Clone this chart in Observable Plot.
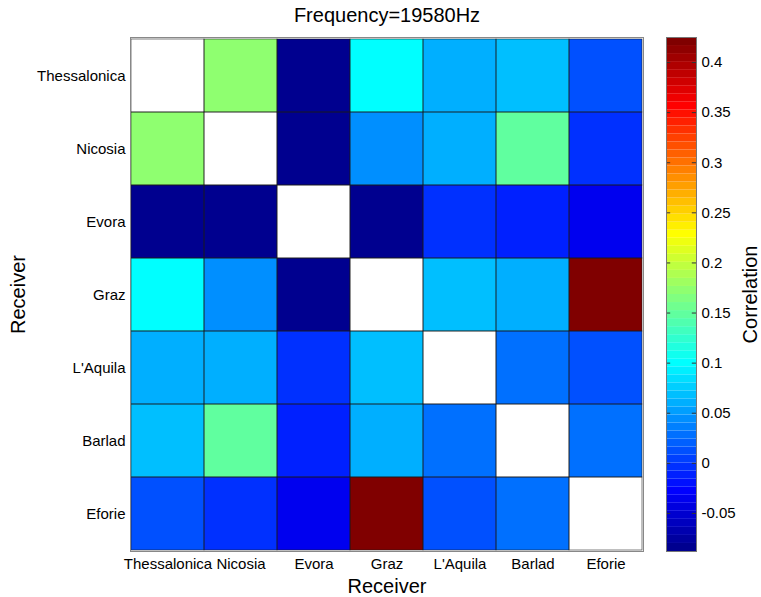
<!DOCTYPE html>
<html><head><meta charset="utf-8">
<script src="https://cdn.jsdelivr.net/npm/d3@7"></script>
<script src="https://cdn.jsdelivr.net/npm/@observablehq/plot@0.6"></script>
<style>
body{margin:0;background:#fff;}
#wrap{position:relative;width:761px;height:597px;}
#wrap svg{position:absolute;left:0;top:0;}
</style></head><body><div id="wrap"></div>
<script>
const receivers = ["Thessalonica","Nicosia","Evora","Graz","L'Aquila","Barlad","Eforie"];
const rowThessalonica = [null, 0.176, -0.085, 0.104, 0.058, 0.065, 0.015];
const rowNicosia      = [0.176, null, -0.085, 0.047, 0.064, 0.147, -0.005];
const rowEvora        = [-0.085, -0.085, null, -0.085, -0.007, -0.008, -0.038];
const rowGraz         = [0.104, 0.047, -0.085, null, 0.072, 0.063, 0.425];
const rowLAquila      = [0.058, 0.064, -0.007, 0.072, null, 0.030, 0.015];
const rowBarlad       = [0.065, 0.147, -0.008, 0.063, 0.030, null, 0.030];
const rowEforie       = [0.015, -0.005, -0.038, 0.425, 0.015, 0.030, null];
const colorTicks = [-0.05, 0, 0.05, 0.1, 0.15, 0.2, 0.25, 0.3, 0.35, 0.4];
const colorMin = -0.088, colorMax = 0.425;
const titleText = "Frequency=19580Hz";
const xLabel = "Receiver", yLabel = "Receiver", colorLabel = "Correlation";

const rows = [rowThessalonica,rowNicosia,rowEvora,rowGraz,rowLAquila,rowBarlad,rowEforie];
const cells = [];
rows.forEach((r,i)=>r.forEach((v,j)=>cells.push({row:receivers[i], col:receivers[j], value:v})));

function jetCont(t){const c=x=>Math.max(0,Math.min(1,x));return [c(1.5-Math.abs(4*t-3)),c(1.5-Math.abs(4*t-2)),c(1.5-Math.abs(4*t-1))];}
function jet(t){const i=Math.max(1,Math.min(64,Math.floor(t*64)+1));const [r,g,b]=jetCont(i/64);return `rgb(${Math.round(r*255)},${Math.round(g*255)},${Math.round(b*255)})`;}
const colorOpts = {type:"linear", domain:[colorMin,colorMax], interpolate:jet, clamp:true};
const font = "'Liberation Sans', Arial, sans-serif";

const main = Plot.plot({
  width:761, height:597, marginLeft:130, marginRight:118, marginTop:37, marginBottom:46,
  style:{fontFamily:font, fontSize:"15px", background:"white", color:"#000"},
  x:{domain:receivers, padding:0, label:null},
  y:{domain:receivers, padding:0, label:null},
  color:colorOpts,
  marks:[
    Plot.cell(cells, {x:"col", y:"row", fill:"white"}),
    Plot.cell(cells.filter(d=>d.value!=null), {x:"col", y:"row", fill:"value"}),
    Plot.cell(cells, {x:"col", y:"row", fill:"none", stroke:"#1a1a1a", strokeWidth:0.7, strokeOpacity:0.8}),
    Plot.frame({stroke:"#888"}),
    Plot.axisX({anchor:"bottom", tickSize:0, tickPadding:7, fontSize:15, label:null}),
    Plot.axisY({anchor:"left", tickSize:0, tickPadding:5, fontSize:15, label:null}),
    Plot.text([titleText], {text:d=>d, frameAnchor:"top", dy:-22, lineAnchor:"middle", textAnchor:"middle", fontSize:20}),
    Plot.text([xLabel], {text:d=>d, frameAnchor:"bottom", dy:35, lineAnchor:"middle", textAnchor:"middle", fontSize:20}),
    Plot.text([yLabel], {text:d=>d, frameAnchor:"left", dx:-112, rotate:-90, lineAnchor:"middle", textAnchor:"middle", fontSize:20})
  ]
});

const levels = d3.range(64).map(k=>({y1:colorMin+k*(colorMax-colorMin)/64, y2:colorMin+(k+1)*(colorMax-colorMin)/64}));
const bar = Plot.plot({
  width:761, height:597, marginLeft:666, marginRight:65, marginTop:37, marginBottom:46,
  style:{fontFamily:font, fontSize:"15px", background:"transparent", color:"#000"},
  x:{domain:[0,1], axis:null},
  y:{domain:[colorMin,colorMax], axis:null},
  color:colorOpts,
  marks:[
    Plot.rect(levels, {x1:0, x2:1, y1:"y1", y2:"y2", fill:d=>(d.y1+d.y2)/2}),
    Plot.ruleY(colorTicks, {y:d=>d, x1:0, x2:0.14, stroke:"#333"}),
    Plot.ruleY(colorTicks, {y:d=>d, x1:0.86, x2:1, stroke:"#333"}),
    Plot.frame({stroke:"#777"}),
    Plot.axisY(colorTicks, {anchor:"right", tickSize:0, tickPadding:5, tickFormat:d=>String(d), fontSize:15}),
    Plot.text([colorLabel], {text:d=>d, frameAnchor:"right", dx:54, rotate:-90, lineAnchor:"middle", textAnchor:"middle", fontSize:20})
  ]
});
const wrap = document.getElementById("wrap");
wrap.appendChild(main);
wrap.appendChild(bar);
</script></body></html>
